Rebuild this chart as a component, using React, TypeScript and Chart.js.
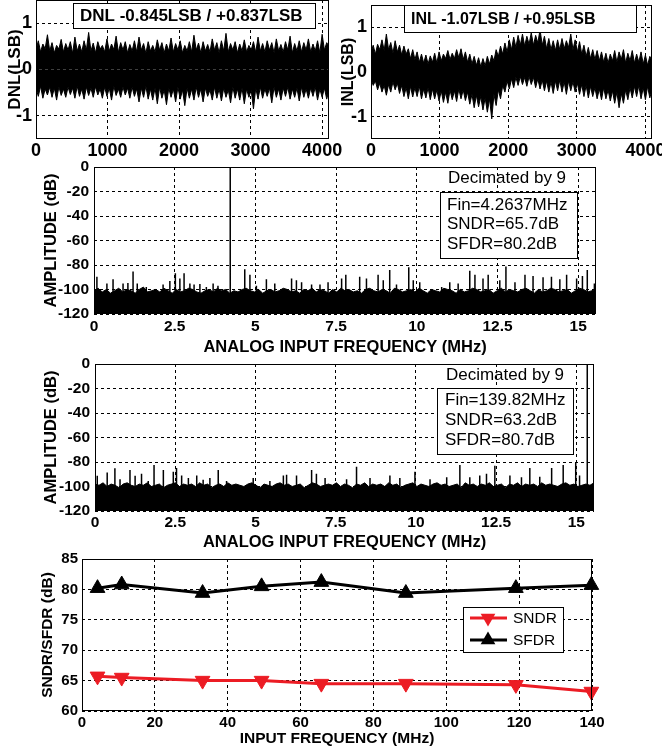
import React, { useEffect, useRef } from 'react';
import { Chart, registerables } from 'chart.js';

Chart.register(...registerables);

const FONT = "'Liberation Sans', Arial, Helvetica, sans-serif";

// ---------------- DNL / INL ----------------
const codeMax = 4096;
const codeTicks = [0, 1000, 2000, 3000, 4000];
const lsbTicks = [-1, 0, 1];
const dnlLabel = 'DNL -0.845LSB / +0.837LSB';
const inlLabel = 'INL -1.07LSB / +0.95LSB';

const dnlUpper = [0.42, 0.62, 0.38, 0.55, 0.45, 0.75, 0.4, 0.58, 0.36, 0.52, 0.44, 0.65, 0.38, 0.56, 0.42, 0.6, 0.35, 0.7, 0.4, 0.55, 0.38, 0.62, 0.42, 0.8, 0.4, 0.57, 0.36, 0.6, 0.44, 0.52, 0.38, 0.66, 0.4, 0.55, 0.43, 0.72, 0.37, 0.58, 0.42, 0.6, 0.36, 0.54, 0.4, 0.62, 0.38, 0.7, 0.42, 0.56, 0.35, 0.6, 0.4, 0.52, 0.38, 0.64, 0.42, 0.58, 0.36, 0.55, 0.4, 0.68, 0.38, 0.56, 0.42, 0.62, 0.36, 0.52, 0.4, 0.6, 0.38, 0.74, 0.42, 0.57, 0.36, 0.6, 0.4, 0.54, 0.38, 0.66, 0.42, 0.58, 0.36, 0.62, 0.4, 0.78, 0.38, 0.56, 0.42, 0.6, 0.36, 0.55, 0.4, 0.64, 0.38, 0.52, 0.42, 0.6, 0.37, 0.7, 0.4, 0.56, 0.38, 0.62, 0.42, 0.58, 0.36, 0.66, 0.4, 0.54, 0.38, 0.6, 0.42, 0.72, 0.36, 0.56, 0.4, 0.62, 0.38, 0.58, 0.42, 0.66, 0.38, 0.55, 0.4, 0.62, 0.36, 0.76, 0.42, 0.58, 0.5];
const dnlLower = [-0.4, -0.58, -0.36, -0.62, -0.42, -0.55, -0.38, -0.6, -0.4, -0.66, -0.37, -0.56, -0.42, -0.6, -0.38, -0.54, -0.4, -0.62, -0.36, -0.58, -0.42, -0.64, -0.38, -0.56, -0.4, -0.6, -0.37, -0.55, -0.42, -0.62, -0.38, -0.58, -0.4, -0.66, -0.36, -0.56, -0.42, -0.6, -0.38, -0.55, -0.4, -0.62, -0.38, -0.58, -0.42, -0.7, -0.4, -0.6, -0.36, -0.64, -0.42, -0.66, -0.4, -0.74, -0.38, -0.62, -0.44, -0.76, -0.4, -0.6, -0.42, -0.7, -0.38, -0.64, -0.44, -0.78, -0.4, -0.62, -0.42, -0.66, -0.38, -0.6, -0.42, -0.7, -0.4, -0.58, -0.44, -0.66, -0.38, -0.62, -0.42, -0.68, -0.4, -0.6, -0.44, -0.72, -0.38, -0.62, -0.42, -0.66, -0.4, -0.74, -0.42, -0.6, -0.44, -0.85, -0.4, -0.64, -0.38, -0.62, -0.42, -0.58, -0.4, -0.72, -0.38, -0.6, -0.42, -0.66, -0.4, -0.58, -0.38, -0.64, -0.42, -0.6, -0.4, -0.68, -0.38, -0.6, -0.42, -0.62, -0.4, -0.58, -0.38, -0.66, -0.42, -0.6, -0.4, -0.64, -0.45];
const inlUpper = [0.45, 0.6, 0.4, 0.62, 0.5, 0.72, 0.48, 0.85, 0.5, 0.66, 0.42, 0.7, 0.45, 0.6, 0.38, 0.58, 0.4, 0.52, 0.3, 0.5, 0.28, 0.45, 0.22, 0.4, 0.2, 0.38, 0.18, 0.36, 0.22, 0.42, 0.2, 0.45, 0.25, 0.4, 0.3, 0.48, 0.28, 0.42, 0.3, 0.5, 0.32, 0.52, 0.28, 0.45, 0.22, 0.4, 0.18, 0.35, 0.15, 0.32, 0.12, 0.3, 0.14, 0.35, 0.18, 0.38, 0.25, 0.5, 0.35, 0.58, 0.4, 0.65, 0.45, 0.72, 0.5, 0.78, 0.55, 0.82, 0.6, 0.85, 0.58, 0.8, 0.62, 0.88, 0.6, 0.82, 0.65, 0.95, 0.6, 0.8, 0.52, 0.75, 0.5, 0.7, 0.48, 0.72, 0.5, 0.75, 0.52, 0.7, 0.55, 0.85, 0.5, 0.72, 0.45, 0.68, 0.4, 0.6, 0.35, 0.55, 0.3, 0.5, 0.28, 0.48, 0.25, 0.45, 0.22, 0.42, 0.2, 0.4, 0.25, 0.48, 0.22, 0.45, 0.28, 0.5, 0.2, 0.42, 0.25, 0.48, 0.2, 0.4, 0.22, 0.45, 0.18, 0.38, 0.15, 0.35, 0.25];
const inlLower = [-0.15, -0.3, -0.2, -0.4, -0.25, -0.45, -0.3, -0.52, -0.28, -0.45, -0.22, -0.4, -0.25, -0.48, -0.3, -0.55, -0.35, -0.6, -0.32, -0.56, -0.35, -0.55, -0.32, -0.6, -0.38, -0.58, -0.35, -0.62, -0.38, -0.6, -0.4, -0.65, -0.42, -0.68, -0.45, -0.7, -0.4, -0.62, -0.42, -0.66, -0.38, -0.6, -0.4, -0.64, -0.45, -0.72, -0.5, -0.8, -0.52, -0.78, -0.55, -0.85, -0.58, -0.9, -0.6, -1.05, -0.5, -0.75, -0.4, -0.6, -0.3, -0.45, -0.2, -0.38, -0.15, -0.35, -0.12, -0.3, -0.1, -0.28, -0.12, -0.32, -0.1, -0.28, -0.12, -0.35, -0.15, -0.38, -0.18, -0.42, -0.2, -0.45, -0.22, -0.48, -0.2, -0.42, -0.18, -0.45, -0.22, -0.5, -0.2, -0.42, -0.22, -0.45, -0.25, -0.5, -0.28, -0.55, -0.3, -0.58, -0.32, -0.55, -0.35, -0.6, -0.38, -0.62, -0.35, -0.6, -0.4, -0.65, -0.42, -0.7, -0.45, -0.8, -0.48, -0.7, -0.4, -0.62, -0.35, -0.58, -0.32, -0.55, -0.3, -0.6, -0.35, -0.62, -0.32, -0.58, -0.4];

// ---------------- FFT spectra ----------------
const fftMaxFreq = 15.55;
const fftXTicks = [0, 2.5, 5, 7.5, 10, 12.5, 15];
const fftXTickLabels = ['0', '2.5', '5', '7.5', '10', '12.5', '15'];
const fftYTicks = [-120, -100, -80, -60, -40, -20, 0];
const fftNote = 'Decimated by 9';

const fft1Text = ['Fin=4.2637MHz', 'SNDR=65.7dB', 'SFDR=80.2dB'];
const fft1Floor = [-101, -99, -102, -100, -103, -101, -99, -102, -100, -101, -103, -100, -98, -102, -101, -100, -102, -99, -101, -103, -100, -102, -101, -99, -100, -102, -103, -101, -100, -102, -99, -101, -100, -103, -101, -102, -100, -99, -101, -102, -100, -103, -101, -100, -102, -101, -99, -100, -102, -101, -103, -100, -101, -99, -102, -100, -101, -103, -100, -102, -99, -101, -100, -102, -101, -103, -100, -99, -101, -102, -100, -101, -103, -99, -100, -102, -101, -100, -102, -99, -101, -103, -100, -101, -102, -99, -100, -101, -103, -100, -102, -101, -99, -100, -102, -101, -100, -103, -101, -99, -102, -100, -101, -102, -100, -99, -101, -103, -100, -102, -101, -99, -100, -102, -101, -100, -103, -101, -99, -100, -102, -101, -100];
const fft1SpikeFreq = [0.09, 0.4, 0.59, 0.9, 1.05, 1.21, 1.34, 1.62, 2.14, 2.35, 2.52, 2.66, 2.79, 2.97, 3.1, 3.28, 3.48, 3.69, 3.84, 4.22, 4.67, 4.83, 5.03, 5.34, 5.6, 6.12, 6.27, 6.43, 6.74, 7.0, 7.25, 7.67, 7.8, 8.23, 8.44, 8.8, 8.96, 9.16, 9.37, 9.75, 9.89, 10.09, 10.77, 11.02, 11.28, 11.64, 11.8, 12.05, 12.21, 12.57, 12.76, 13.04, 13.35, 13.6, 13.91, 14.17, 14.43, 14.64, 14.95, 15.13, 15.28, 15.5];
const fft1SpikeDb = [-89.5, -95, -91.6, -95, -94.6, -85.4, -95, -98, -96, -93, -86.7, -91, -86.7, -95, -96, -95.5, -98, -95, -97, 0, -83.4, -88, -97, -91.6, -95, -91, -92.5, -94, -96, -96, -94, -91, -88, -89.5, -91, -88, -92.5, -84, -96, -81.8, -92.5, -94, -98, -94, -95, -84.6, -88, -91, -88, -92.5, -81.3, -94, -88, -89, -90, -89.5, -91.6, -88, -91, -89, -84, -95];

const fft2Text = ['Fin=139.82MHz', 'SNDR=63.2dB', 'SFDR=80.7dB'];
const fft2Floor = [-98, -99, -97, -100, -98, -99, -101, -98, -97, -99, -100, -98, -99, -97, -100, -99, -98, -101, -99, -98, -97, -100, -98, -99, -98, -100, -97, -99, -98, -101, -99, -98, -100, -97, -99, -98, -99, -100, -98, -97, -99, -101, -98, -99, -100, -98, -97, -99, -98, -100, -99, -98, -101, -99, -97, -98, -100, -99, -98, -99, -97, -100, -98, -99, -101, -98, -99, -97, -100, -98, -99, -98, -100, -97, -99, -98, -101, -99, -98, -97, -100, -98, -99, -100, -98, -97, -99, -98, -100, -99, -98, -101, -97, -99, -98, -100, -98, -99, -97, -100, -99, -98, -101, -98, -99, -97, -100, -98, -99, -98, -100, -97, -99, -98, -99, -100, -98, -97, -99, -98, -100, -99, -98, -99, -97];
const fft2SpikeFreq = [0.07, 0.38, 0.62, 0.78, 1.09, 1.25, 1.45, 1.66, 1.84, 2.13, 2.44, 2.54, 2.7, 2.91, 3.17, 3.37, 3.58, 3.84, 4.1, 4.93, 5.45, 5.87, 5.97, 6.28, 6.75, 6.9, 7.17, 7.84, 8.15, 8.57, 9.19, 9.5, 9.97, 10.44, 10.96, 11.37, 11.68, 11.99, 12.2, 12.46, 12.93, 13.29, 13.55, 13.86, 14.23, 14.59, 14.98, 15.1, 15.34];
const fft2SpikeDb = [-91.3, -88.5, -85.2, -94, -86.6, -91.3, -89.5, -95.5, -82.5, -86.6, -88, -84.8, -91, -93, -91, -94.5, -93, -86.6, -95.5, -93, -95.5, -91, -90.5, -91, -86.6, -89.5, -93, -94, -83.9, -93, -91, -93, -88, -94, -92.5, -82.5, -92.5, -91, -89.5, -83, -91, -92.5, -84.8, -92, -84.8, -82.5, -80.3, -91, 0];

// ---------------- SNDR / SFDR vs input frequency ----------------
const inputFreq = [4.26, 10.9, 33.1, 49.3, 65.7, 88.9, 119.1, 139.82];
const sndr = [65.7, 65.5, 65.0, 65.0, 64.5, 64.5, 64.3, 63.2];
const sfdr = [80.2, 80.8, 79.4, 80.5, 81.2, 79.4, 80.2, 80.7];
const perfXTicks = [0, 20, 40, 60, 80, 100, 120, 140];
const perfYTicks = [60, 65, 70, 75, 80, 85];
const sndrColor = '#ec1c24';

// ---------------- helpers ----------------
const font = (size: number, weight: any = 'bold') => ({ family: FONT, size, weight, lineHeight: 1.2 });
const cssFont = (size: number, weight = 'bold') => `${weight} ${size}px ${FONT}`;

const sampled = (arr: number[], max: number) => arr.map((y, i) => ({ x: (i * max) / (arr.length - 1), y }));
const spikes = (freq: number[], db: number[], floor: number) =>
  freq.flatMap((f, i) => [{ x: f, y: floor }, { x: f, y: db[i] }, { x: f, y: null }]);

function axisX(o: any) {
  return {
    type: 'linear', position: 'bottom', min: o.min, max: o.max,
    afterBuildTicks: (s: any) => { s.ticks = o.ticks.map((v: number) => ({ value: v })); },
    afterFit: (s: any) => { s.height = o.height; s.paddingLeft = 0; s.paddingRight = 0; s.paddingTop = 0; s.paddingBottom = 0; },
    grid: { color: '#000', lineWidth: 1, drawTicks: false },
    border: { display: false, dash: [3, 3] },
    ticks: {
      color: '#000', font: font(o.size), padding: o.pad, maxRotation: 0, minRotation: 0, autoSkip: false,
      callback: (v: any, i: number) => (o.labels ? o.labels[i] : String(v)),
    },
    title: o.title
      ? { display: true, text: o.title, color: '#000', font: font(o.titleSize), padding: { top: 0, bottom: o.titlePad } }
      : { display: false },
  };
}

function axisY(o: any) {
  return {
    type: 'linear', position: 'left', min: o.min, max: o.max,
    afterBuildTicks: (s: any) => { s.ticks = o.ticks.map((v: number) => ({ value: v })); },
    afterFit: (s: any) => { s.width = o.width; s.paddingLeft = 0; s.paddingRight = 0; s.paddingTop = 0; s.paddingBottom = 0; },
    grid: { color: '#000', lineWidth: 1, drawTicks: false },
    border: { display: false, dash: [3, 3] },
    ticks: { color: '#000', font: font(o.size), padding: o.pad, autoSkip: false, callback: (v: any) => String(v) },
    title: { display: true, text: o.title, color: '#000', font: font(o.titleSize), padding: { top: o.titlePad, bottom: 0 } },
  };
}

function drawFrame(ctx: any, chart: any) {
  const a = chart.chartArea;
  ctx.setLineDash([]);
  ctx.strokeStyle = '#000';
  ctx.lineWidth = 1;
  ctx.strokeRect(Math.round(a.left) + 0.5, Math.round(a.top) + 0.5, Math.round(a.right - a.left) - 1, Math.round(a.bottom - a.top) - 1);
}

function whiteBox(ctx: any, x: number, y: number, w: number, h: number) {
  ctx.fillStyle = '#fff';
  ctx.fillRect(x, y, w, h);
  ctx.strokeStyle = '#000';
  ctx.lineWidth = 1;
  ctx.strokeRect(x + 0.5, y + 0.5, w, h);
}

function decor(draw: (ctx: any, chart: any) => void) {
  return {
    id: 'decor',
    afterDraw(chart: any) {
      const ctx = chart.ctx;
      ctx.save();
      drawFrame(ctx, chart);
      draw(ctx, chart);
      ctx.restore();
    },
  };
}

const baseOptions = (padding: any) => ({
  responsive: false,
  maintainAspectRatio: false,
  animation: false,
  events: [],
  layout: { padding },
  plugins: { legend: { display: false }, tooltip: { enabled: false } },
  elements: { point: { radius: 0 }, line: { tension: 0 } },
});

// ---------------- chart configs ----------------
function lsbConfig(upper: number[], lower: number[], label: string, o: any) {
  return {
    type: 'line',
    data: {
      datasets: [
        { data: sampled(upper, codeMax), borderColor: '#000', backgroundColor: '#000', borderWidth: 1, fill: 'origin', pointRadius: 0 },
        { data: sampled(lower, codeMax), borderColor: '#000', backgroundColor: '#000', borderWidth: 1, fill: 'origin', pointRadius: 0 },
      ],
    },
    options: {
      ...baseOptions(o.padding),
      scales: {
        x: axisX({ min: 0, max: codeMax, ticks: codeTicks, height: o.xHeight, size: 18, pad: 1 }),
        y: axisY({ min: -1.5, max: 1.5, ticks: lsbTicks, width: o.yWidth, size: 18, pad: 4, title: o.yTitle, titleSize: o.yTitleSize, titlePad: o.yTitlePad }),
      },
    },
    plugins: [
      decor((ctx) => {
        const [bx, by, bw, bh] = o.box;
        whiteBox(ctx, bx, by, bw, bh);
        ctx.fillStyle = '#000';
        ctx.font = cssFont(o.labelSize);
        ctx.textAlign = 'left';
        ctx.textBaseline = 'middle';
        ctx.fillText(label, bx + 7, by + bh / 2 + 1);
      }),
    ],
  };
}

function fftConfig(floor: number[], sf: number[], sd: number[], lines: string[], o: any) {
  return {
    type: 'line',
    data: {
      datasets: [
        { data: spikes(sf, sd, -120), borderColor: '#000', borderWidth: 1.5, fill: false, pointRadius: 0, spanGaps: false },
        { data: sampled(floor, fftMaxFreq), borderColor: '#000', backgroundColor: '#000', borderWidth: 1, fill: 'start', pointRadius: 0 },
      ],
    },
    options: {
      ...baseOptions(o.padding),
      scales: {
        x: axisX({ min: 0, max: fftMaxFreq, ticks: fftXTicks, labels: fftXTickLabels, height: o.xHeight, size: 15.5, pad: o.xPad, title: 'ANALOG INPUT FREQUENCY (MHz)', titleSize: 16.5, titlePad: 3 }),
        y: axisY({ min: -120, max: 0, ticks: fftYTicks, width: o.yWidth, size: 15.5, pad: 5, title: 'AMPLITUDE (dB)', titleSize: 16.5, titlePad: 42 }),
      },
    },
    plugins: [
      decor((ctx) => {
        ctx.fillStyle = '#000';
        ctx.font = cssFont(17, 'normal');
        ctx.textAlign = 'center';
        ctx.textBaseline = 'middle';
        ctx.fillText(fftNote, o.noteX, o.noteY);
        const [bx, by, bw, bh] = o.box;
        whiteBox(ctx, bx, by, bw, bh);
        ctx.fillStyle = '#000';
        ctx.textAlign = 'left';
        lines.forEach((t, i) => ctx.fillText(t, o.textX, o.textY + i * o.lineGap));
      }),
    ],
  };
}

function perfConfig() {
  const drawLegendRow = (ctx: any, y: number, color: string, rot: number, text: string) => {
    ctx.strokeStyle = color;
    ctx.lineWidth = 3;
    ctx.beginPath();
    ctx.moveTo(470, y);
    ctx.lineTo(507, y);
    ctx.stroke();
    ctx.fillStyle = color;
    ctx.beginPath();
    const r = 8.5;
    for (let k = 0; k < 3; k++) {
      const ang = (rot + k * 120) * Math.PI / 180;
      const px = 488 + Math.sin(ang) * r;
      const py = y - Math.cos(ang) * r;
      if (k === 0) ctx.moveTo(px, py); else ctx.lineTo(px, py);
    }
    ctx.closePath();
    ctx.fill();
    ctx.fillStyle = '#000';
    ctx.font = cssFont(15.5, 'normal');
    ctx.textAlign = 'left';
    ctx.textBaseline = 'middle';
    ctx.fillText(text, 513, y + 1);
  };
  return {
    type: 'line',
    data: {
      datasets: [
        {
          label: 'SNDR', data: inputFreq.map((x, i) => ({ x, y: sndr[i] })), borderColor: sndrColor, backgroundColor: sndrColor,
          borderWidth: 3, pointStyle: 'triangle', rotation: 180, pointRadius: 8.5, pointBorderWidth: 1, fill: false, clip: false,
        },
        {
          label: 'SFDR', data: inputFreq.map((x, i) => ({ x, y: sfdr[i] })), borderColor: '#000', backgroundColor: '#000',
          borderWidth: 3, pointStyle: 'triangle', pointRadius: 8.5, pointBorderWidth: 1, fill: false, clip: false,
        },
      ],
    },
    options: {
      ...baseOptions({ left: 0, top: 14, right: 70, bottom: 0 }),
      scales: {
        x: axisX({ min: 0, max: 140, ticks: perfXTicks, height: 40, size: 15, pad: 3, title: 'INPUT FREQUENCY (MHz)', titleSize: 15.5, titlePad: 3 }),
        y: axisY({ min: 60, max: 85, ticks: perfYTicks, width: 82, size: 15, pad: 4, title: 'SNDR/SFDR (dB)', titleSize: 15.5, titlePad: 38 }),
      },
    },
    plugins: [
      decor((ctx) => {
        whiteBox(ctx, 463, 62, 100, 45);
        drawLegendRow(ctx, 73, sndrColor, 180, 'SNDR');
        drawLegendRow(ctx, 95, '#000', 0, 'SFDR');
      }),
    ],
  };
}

function Panel({ left, top, width, height, make }: any) {
  const ref = useRef<HTMLCanvasElement>(null);
  useEffect(() => {
    const chart = new Chart(ref.current as any, make());
    return () => chart.destroy();
  }, []);
  return (
    <canvas
      ref={ref}
      width={width}
      height={height}
      style={{ position: 'absolute', left, top, width: `${width}px`, height: `${height}px`, display: 'block' }}
    />
  );
}

export default function App() {
  return (
    <div style={{ position: 'absolute', left: 0, top: 0, width: 662, height: 751, background: '#fff', overflow: 'hidden' }}>
      <Panel left={0} top={0} width={350} height={170}
        make={() => lsbConfig(dnlUpper, dnlLower, dnlLabel, {
          padding: { left: 0, top: 0, right: 21, bottom: 0 }, xHeight: 31, yWidth: 36,
          yTitle: 'DNL(LSB)', yTitleSize: 17, yTitlePad: 5, box: [73, 3, 242, 25], labelSize: 17,
        })} />
      <Panel left={330} top={0} width={332} height={170}
        make={() => lsbConfig(inlUpper, inlLower, inlLabel, {
          padding: { left: 0, top: 5, right: 10, bottom: 0 }, xHeight: 31, yWidth: 41,
          yTitle: 'INL(LSB)', yTitleSize: 16, yTitlePad: 9, box: [74, 5, 232, 27], labelSize: 16,
        })} />
      <Panel left={0} top={160} width={662} height={200}
        make={() => fftConfig(fft1Floor, fft1SpikeFreq, fft1SpikeDb, fft1Text, {
          padding: { left: 0, top: 7, right: 66, bottom: 0 }, xHeight: 46, yWidth: 94, xPad: 3,
          noteX: 507, noteY: 18, box: [440, 32, 137, 66], textX: 447, textY: 45, lineGap: 19.5,
        })} />
      <Panel left={0} top={355} width={662} height={200}
        make={() => fftConfig(fft2Floor, fft2SpikeFreq, fft2SpikeDb, fft2Text, {
          padding: { left: 0, top: 9, right: 68, bottom: 0 }, xHeight: 44, yWidth: 95, xPad: 2,
          noteX: 505, noteY: 20, box: [437, 33, 136, 66], textX: 445, textY: 45, lineGap: 20,
        })} />
      <Panel left={0} top={545} width={662} height={206} make={perfConfig} />
    </div>
  );
}
